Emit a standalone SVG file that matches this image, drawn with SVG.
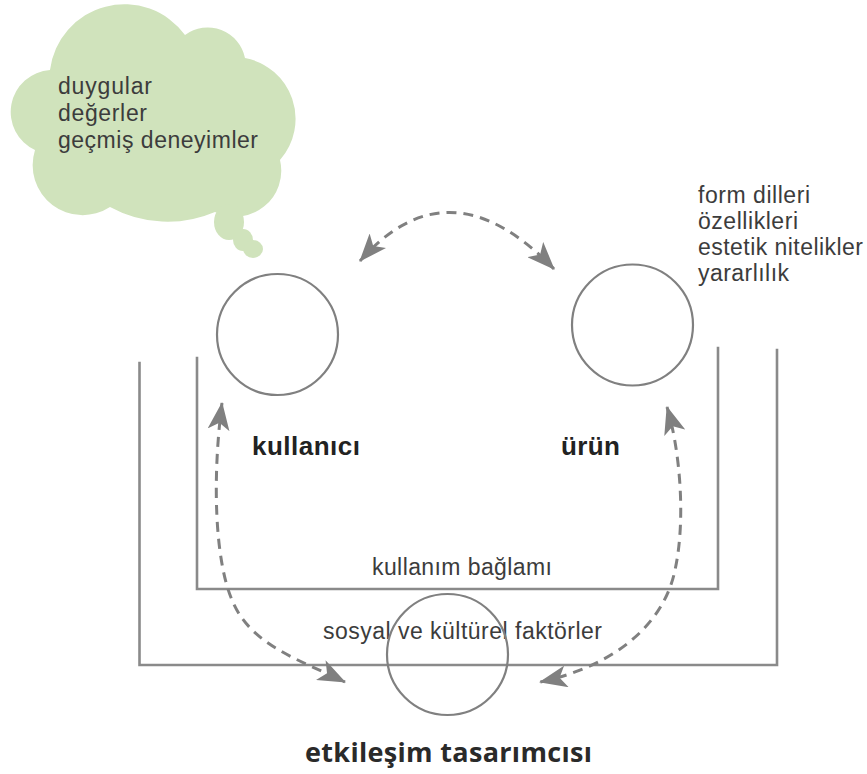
<svg xmlns="http://www.w3.org/2000/svg" width="867" height="774" viewBox="0 0 867 774">
  <style>
    .ring { fill: none; stroke: #808080; stroke-width: 2.2; }
    .wall { fill: none; stroke: #8a8a8a; stroke-width: 2.6; stroke-linecap: square; }
    .cloud { fill: #d0e3bc; }
    .txt { font-family: "Liberation Sans", Arial, sans-serif; font-size: 23px; fill: #3c3c3c; }
    .bold { font-family: "Liberation Sans", Arial, sans-serif; font-size: 26px; font-weight: bold; fill: #222222; }
    .title { font-family: "Open Sans", "Liberation Sans", sans-serif; font-size: 27px; font-weight: bold; fill: #2a2a2a; }
    .link { fill: none; stroke: #808080; stroke-width: 3; stroke-dasharray: 10 7; }
  </style>
  <defs>
    <marker id="arr" viewBox="0 0 28 22" refX="27" refY="11" markerWidth="28" markerHeight="22" markerUnits="userSpaceOnUse" orient="auto-start-reverse">
      <path d="M0,0 L28,11 L0,22 L7,11 Z" fill="#808080"/>
    </marker>
  </defs>
  <rect width="867" height="774" fill="#ffffff"/>

  <!-- thought cloud -->
  <g id="cloud">
    <path class="cloud" d="M 50,70 A 75 75 0 0 1 185,35 A 38 38 0 0 1 245,58 A 62 62 0 0 1 280,160 A 46 46 0 0 1 215,212 A 120 120 0 0 1 110,207 A 50 50 0 0 1 35,150 A 42 42 0 0 1 50,70 Z"/>
    <rect class="cloud" x="60" y="66" width="190" height="130"/>
    <ellipse class="cloud" cx="229" cy="222" rx="15" ry="18"/>
    <ellipse class="cloud" cx="243" cy="240" rx="10" ry="11"/>
    <ellipse class="cloud" cx="253" cy="249" rx="10" ry="9"/>
    <text class="txt" x="58" y="94" textLength="94">duygular</text>
    <text class="txt" x="58" y="121" textLength="89">değerler</text>
    <text class="txt" x="58" y="148" textLength="200">geçmiş deneyimler</text>
  </g>

  <!-- product attributes -->
  <g id="urun-nitelikleri">
    <text class="txt" x="698" y="203" textLength="112">form dilleri</text>
    <text class="txt" x="698" y="229" textLength="100">özellikleri</text>
    <text class="txt" x="698" y="255" textLength="165">estetik nitelikler</text>
    <text class="txt" x="698" y="281" textLength="91">yararlılık</text>
  </g>

  <!-- social & cultural context (outer U) -->
  <g id="sosyal-kulturel">
    <path class="wall" d="M 139.5,363 L 139.5,665 L 777,665 L 777,350"/>
    <text class="txt" x="323" y="639" textLength="279">sosyal ve kültürel faktörler</text>
  </g>

  <!-- usage context (inner U) -->
  <g id="kullanim-baglami">
    <path class="wall" d="M 197,358 L 197,589 L 718,589 L 718,348"/>
    <text class="txt" x="372" y="575" textLength="180">kullanım bağlamı</text>
  </g>

  <g id="kullanici">
    <circle class="ring" cx="277.5" cy="334.5" r="60.5"/>
    <text class="bold" x="252" y="455" textLength="108">kullanıcı</text>
  </g>

  <g id="urun">
    <circle class="ring" cx="632.5" cy="325" r="60.5"/>
    <text class="bold" x="561" y="455" textLength="59">ürün</text>
  </g>

  <g id="tasarimci">
    <circle class="ring" cx="447.5" cy="654.5" r="60.5"/>
    <text class="title" x="305" y="762" textLength="287">etkileşim tasarımcısı</text>
  </g>

  <g id="connectors">
    <path class="link" marker-start="url(#arr)" marker-end="url(#arr)" d="M 360,261 Q 449,160 554,269"/>
    <path class="link" marker-start="url(#arr)" marker-end="url(#arr)" d="M 222,403 C 212,480 215,560 232,600 C 250,645 300,660 345,682"/>
    <path class="link" marker-start="url(#arr)" marker-end="url(#arr)" d="M 667,407 C 680,450 686,520 675,570 C 665,620 620,665 540,682"/>
  </g>
</svg>
